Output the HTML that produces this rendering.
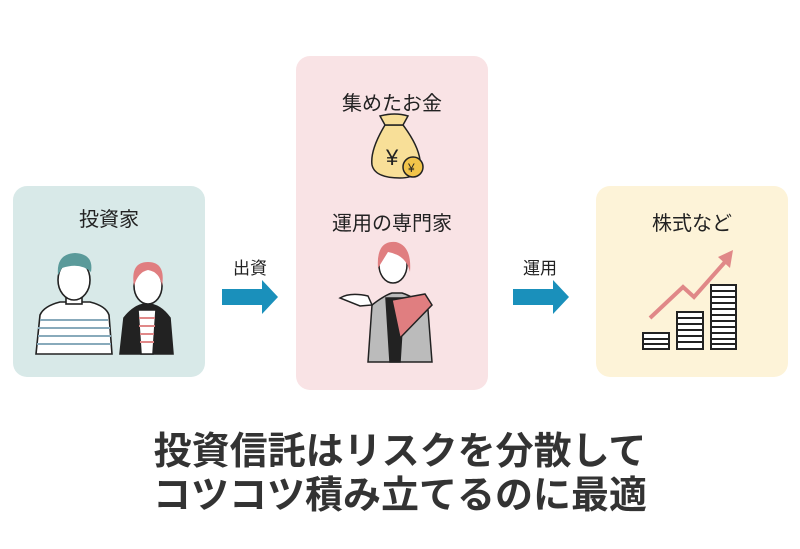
<!DOCTYPE html>
<html><head><meta charset="utf-8"><style>
html,body{margin:0;padding:0;background:#fff;}
body{width:800px;height:549px;position:relative;overflow:hidden;font-family:"Liberation Sans","Noto Sans CJK JP",sans-serif;color:#222;}
.box{position:absolute;border-radius:14px;}
.t{position:absolute;text-align:center;white-space:nowrap;}
</style></head><body>
<div class="box" style="left:13px;top:186px;width:192px;height:191px;background:#d8e9e8"></div>
<div class="box" style="left:296px;top:56px;width:192px;height:334px;background:#f9e3e5"></div>
<div class="box" style="left:596px;top:186px;width:192px;height:191px;background:#fdf3d8"></div>
<div class="t" style="left:13px;width:192px;top:203px;font-size:20px">投資家</div>
<div class="t" style="left:296px;width:192px;top:87px;font-size:20px">集めたお金</div>
<div class="t" style="left:296px;width:192px;top:207px;font-size:20px">運用の専門家</div>
<div class="t" style="left:596px;width:192px;top:207px;font-size:20px">株式など</div>
<div class="t" style="left:215px;width:70px;top:254px;font-size:17px">出資</div>
<div class="t" style="left:505px;width:70px;top:254px;font-size:17px">運用</div>
<div class="t" style="left:0;width:800px;top:430px;font-size:38px;font-weight:bold;color:#333;line-height:44px">投資信託はリスクを分散して<br>コツコツ積み立てるのに最適</div>
<svg width="800" height="549" style="position:absolute;left:0;top:0">
<polygon points="222,289 262,289 262,280 278,297 262,314 262,305 222,305" fill="#1a90bb"/>
<polygon points="513,289 553,289 553,280 569,297 553,314 553,305 513,305" fill="#1a90bb"/>
<g stroke="#222" stroke-width="1.6">
<path d="M36,354 L40,315 Q44,306 60,302 L90,302 Q106,306 109,315 L112,354 Z" fill="#fff"/>
<path d="M40,320H108M38,328H110M38,336H111M37,344H111" stroke="#8ab" stroke-width="2"/>
<rect x="66" y="290" width="16" height="14" fill="#fff"/>
<ellipse cx="74" cy="280" rx="16" ry="20" fill="#fff"/>
<path d="M58,275 Q56,254 75,253 Q94,254 91,272 Q80,262 62,268Z" fill="#5a9a9a" stroke="none"/>
<path d="M120,354 L124,318 Q135,304 147,304 Q160,304 170,318 L173,354Z" fill="#222"/>
<path d="M138,310 L156,310 L153,354 L141,354Z" fill="#fff"/>
<path d="M139,318H155M139,326H155M140,334H154M140,342H154" stroke="#e08888" stroke-width="2"/>
<ellipse cx="148" cy="286" rx="14" ry="18" fill="#fff"/>
<path d="M134,286 Q130,262 148,262 Q166,262 162,286 Q160,272 148,270 Q138,272 134,286Z" fill="#e07e80" stroke="none"/>
</g>
<g stroke="#222" stroke-width="1.5">
<path d="M385,125 Q370,150 372,165 Q375,178 400,178 Q422,178 420,160 Q418,145 403,125Z" fill="#f8df98"/>
<path d="M385,125 L380,116 Q395,112 408,116 L403,125Z" fill="#f8df98"/>
<text x="386" y="165" font-size="22" fill="#222" stroke="none">¥</text>
<circle cx="413" cy="167" r="10" fill="#f2c44a"/>
<text x="408" y="172" font-size="12" fill="#222" stroke="none">¥</text>
</g>
<g stroke="#222" stroke-width="1.5">
<path d="M368,362 L372,305 Q385,295 392,293 L402,293 Q415,297 428,310 L432,362Z" fill="#bbb"/>
<path d="M386,298 L404,298 L400,362 L390,362Z" fill="#222"/>
<path d="M340,298 Q350,292 368,296 L372,305 L360,306Z" fill="#fff"/>
<path d="M392,300 L425,294 L432,305 L400,338 Z" fill="#e07e80"/>
<ellipse cx="393" cy="265" rx="14" ry="18" fill="#fff"/>
<path d="M378,268 Q376,240 396,242 Q412,246 410,272 Q406,255 388,252Z" fill="#e07e80" stroke="none"/>
</g>
<g fill="#fff" stroke="#222" stroke-width="2">
<rect x="643" y="333" width="26" height="16"/>
<rect x="677" y="312" width="26" height="37"/>
<rect x="711" y="285" width="25" height="64"/>
</g>
<path d="M643,339H669M643,344H669M677,318H703M677,324H703M677,330H703M677,336H703M677,342H703M711,291H736M711,297H736M711,303H736M711,309H736M711,315H736M711,321H736M711,327H736M711,333H736M711,339H736M711,344H736" stroke="#222" stroke-width="2"/>
<polyline points="650,318 683,287 694,297 725,262" fill="none" stroke="#e08888" stroke-width="4"/>
<polygon points="733,250 718,257 730,268" fill="#e08888"/>
</svg>
</body></html>
